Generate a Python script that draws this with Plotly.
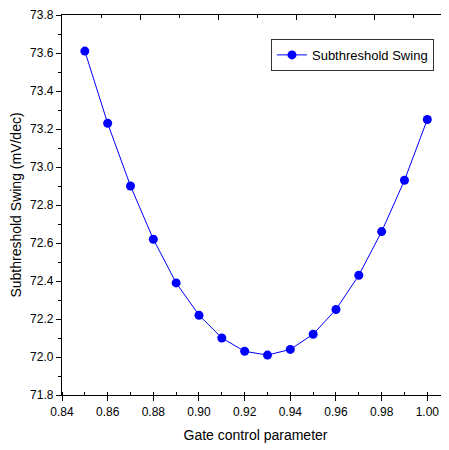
import plotly.graph_objects as go

gate_param = [0.85, 0.86, 0.87, 0.88, 0.89, 0.90, 0.91, 0.92, 0.93, 0.94, 0.95, 0.96, 0.97, 0.98, 0.99, 1.00]
ss_values = [73.61, 73.23, 72.90, 72.62, 72.39, 72.22, 72.10, 72.03, 72.01, 72.04, 72.12, 72.25, 72.43, 72.66, 72.93, 73.25]
x_ticks = [0.84, 0.86, 0.88, 0.90, 0.92, 0.94, 0.96, 0.98, 1.00]
y_ticks = [71.8, 72.0, 72.2, 72.4, 72.6, 72.8, 73.0, 73.2, 73.4, 73.6, 73.8]

tick_font = dict(family="Liberation Sans Narrow, Arial Narrow, Liberation Sans, Arial", size=12, color="black")
title_font = dict(family="Liberation Sans, Arial", size=14, color="black")

fig = go.Figure()
fig.add_trace(go.Scatter(
    x=gate_param, y=ss_values, mode="lines+markers",
    name="Subthreshold Swing",
    line=dict(color="#0000ff", width=1),
    marker=dict(color="#0000ff", size=9, symbol="circle"),
))
# invisible trace to host the top axis
fig.add_trace(go.Scatter(x=[0], y=[72.0], xaxis="x2", mode="markers",
                         marker=dict(opacity=0), showlegend=False, hoverinfo="skip"))

fig.update_layout(
    width=441, height=442,
    margin=dict(l=54, r=0, t=7, b=55, autoexpand=False),
    paper_bgcolor="white", plot_bgcolor="white",
    showlegend=True,
    legend=dict(x=0.540, y=0.937, xanchor="left", yanchor="top",
                bordercolor="#333333", borderwidth=1, bgcolor="white",
                font=dict(family="Liberation Sans Narrow, Arial Narrow, Liberation Sans, Arial", size=13, color="black"),
                itemwidth=30, tracegroupgap=0),
    xaxis=dict(
        range=[0.84, 1.0095], tickvals=x_ticks, ticktext=[f"{v:.2f}" for v in x_ticks],
        showline=True, linecolor="black", linewidth=1.3, automargin=False,
        ticks="outside", ticklen=5, tickwidth=1, tickcolor="black",
        minor=dict(dtick=0.01, tick0=0.84, ticks="inside", ticklen=3, tickwidth=1, tickcolor="black"),
        showgrid=False, zeroline=False, tickfont=tick_font,
        title=dict(text="Gate control parameter", font=title_font, standoff=12),
    ),
    xaxis2=dict(
        overlaying="x", side="top", range=[0, 9.92], dtick=2, tick0=0, automargin=False,
        showline=True, linecolor="black", linewidth=1.3,
        ticks="inside", ticklen=5, tickwidth=1, tickcolor="black",
        minor=dict(dtick=1, tick0=0, ticks="inside", ticklen=3, tickwidth=1, tickcolor="black"),
        showticklabels=False, showgrid=False, zeroline=False,
    ),
    yaxis=dict(
        range=[71.8, 73.8], tickvals=y_ticks, ticktext=[f"{v:.1f}" for v in y_ticks],
        showline=True, linecolor="black", linewidth=1.3, automargin=False,
        ticks="outside", ticklen=5, tickwidth=1, tickcolor="black",
        minor=dict(dtick=0.1, tick0=71.8, ticks="outside", ticklen=3, tickwidth=1, tickcolor="black"),
        showgrid=False, zeroline=False, tickfont=tick_font,
        title=dict(text="Subthreshold Swing (mV/dec)", font=title_font, standoff=8),
    ),
)

fig.write_html("out.html")
